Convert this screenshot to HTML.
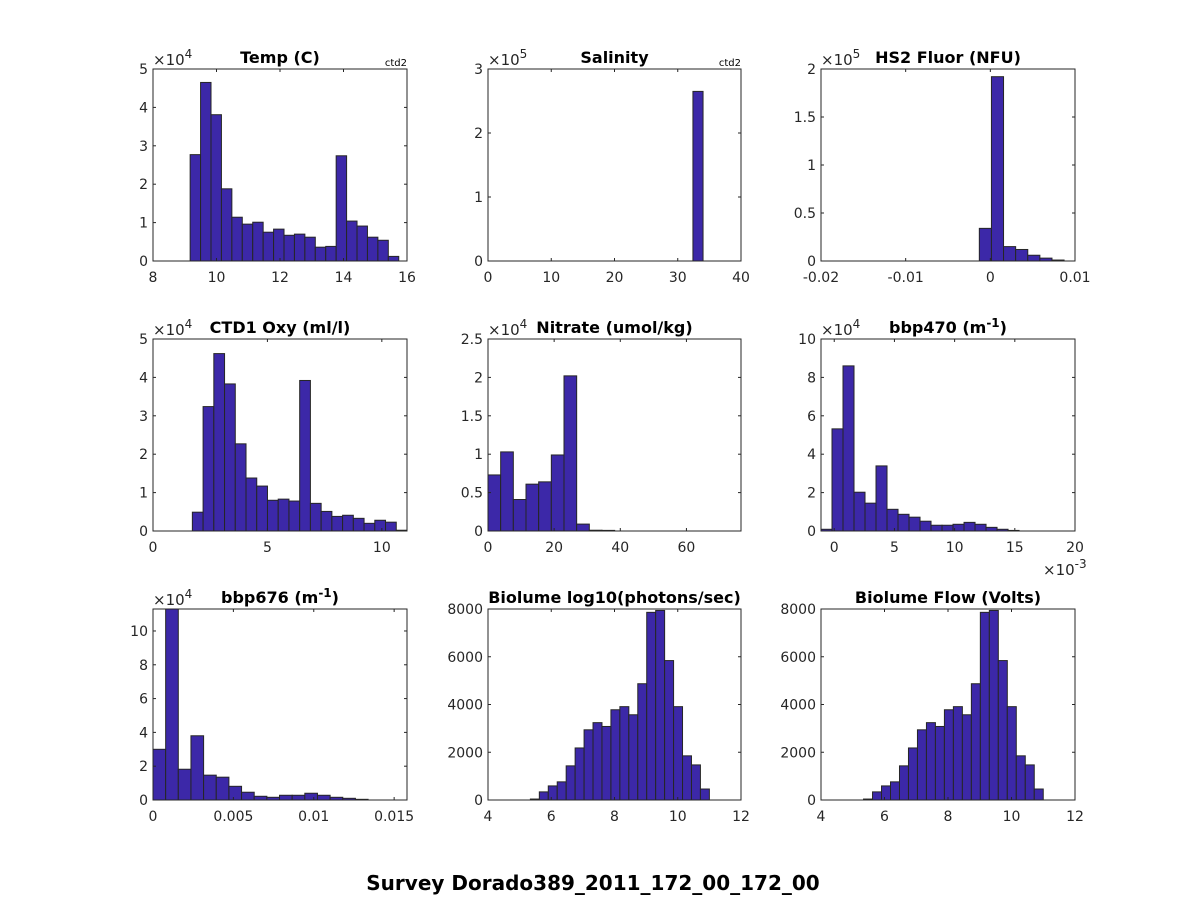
<!DOCTYPE html>
<html><head><meta charset="utf-8"><style>
html,body{margin:0;padding:0;background:#fff;}
svg{display:block;font-family:"DejaVu Sans","Liberation Sans",sans-serif;}
</style></head><body>
<svg id="fig" width="1188" height="900" viewBox="0 0 1188 900">
<rect width="1188" height="900" fill="#fff"/>
<text x="593" y="890" text-anchor="middle" font-size="20" font-weight="bold" fill="#000">Survey Dorado389_2011_172_00_172_00</text>
</svg>
<script>
// ---- data arrays (bin start, bin width in x units, counts in y-exponent units) ----
const tempCounts = [2.77,4.65,3.81,1.88,1.14,0.96,1.01,0.75,0.83,0.67,0.70,0.62,0.36,0.38,2.74,1.04,0.91,0.62,0.54,0.12];
const tempBins = [9.17, 0.3285];
const salCounts = [2.65];
const salBins = [32.4, 1.6];
const fluorCounts = [0.34,1.92,0.15,0.12,0.06,0.03,0.01];
const fluorBins = [-0.0013, 0.00143];
const oxyCounts = [0.49,3.24,4.62,3.83,2.27,1.38,1.17,0.80,0.83,0.78,3.92,0.72,0.51,0.38,0.41,0.33,0.20,0.28,0.23,0.02];
const oxyBins = [1.72, 0.469];
const nitCounts = [0.73,1.03,0.41,0.61,0.64,0.99,2.02,0.09,0.01,0.008];
const nitBins = [0, 3.83];
const b470Counts = [0.09,5.32,8.6,2.02,1.45,3.39,1.13,0.87,0.72,0.51,0.30,0.30,0.35,0.45,0.35,0.19,0.09,0.03];
const b470Bins = [-1.1, 0.914];
const b676Counts = [3.0,11.6,1.82,3.8,1.47,1.35,0.81,0.46,0.22,0.16,0.28,0.28,0.40,0.28,0.16,0.10,0.04];
const b676Bins = [0, 0.000787];
const bioCounts = [40,340,590,760,1430,2180,2940,3240,3080,3780,3910,3570,4870,7860,7940,5840,3910,1850,1470,460];
const bioBins = [5.34, 0.283];
const flowCounts = [40,340,590,760,1430,2180,2940,3240,3080,3780,3910,3570,4870,7860,7940,5840,3910,1850,1470,460];
const flowBins = [5.34, 0.283];

const panels = [
 {name:'temp', title:'Temp (C)', box:[153,69,407,261], xlim:[8,16], ylim:[0,5], xt:[8,10,12,14,16], xl:['8','10','12','14','16'], yt:[0,1,2,3,4,5], yl:['0','1','2','3','4','5'], exp:'4', counts:tempCounts, bins:tempBins, ctd:true},
 {name:'salinity', title:'Salinity', box:[488,69,741,261], xlim:[0,40], ylim:[0,3], xt:[0,10,20,30,40], xl:['0','10','20','30','40'], yt:[0,1,2,3], yl:['0','1','2','3'], exp:'5', counts:salCounts, bins:salBins, ctd:true},
 {name:'hs2-fluor', title:'HS2 Fluor (NFU)', box:[821,69,1075,261], xlim:[-0.02,0.01], ylim:[0,2], xt:[-0.02,-0.01,0,0.01], xl:['-0.02','-0.01','0','0.01'], yt:[0,0.5,1,1.5,2], yl:['0','0.5','1','1.5','2'], exp:'5', counts:fluorCounts, bins:fluorBins},
 {name:'ctd1-oxy', title:'CTD1 Oxy (ml/l)', box:[153,339,407,531], xlim:[0,11.1], ylim:[0,5], xt:[0,5,10], xl:['0','5','10'], yt:[0,1,2,3,4,5], yl:['0','1','2','3','4','5'], exp:'4', counts:oxyCounts, bins:oxyBins},
 {name:'nitrate', title:'Nitrate (umol/kg)', box:[488,339,741,531], xlim:[0,76.5], ylim:[0,2.5], xt:[0,20,40,60], xl:['0','20','40','60'], yt:[0,0.5,1,1.5,2,2.5], yl:['0','0.5','1','1.5','2','2.5'], exp:'4', counts:nitCounts, bins:nitBins},
 {name:'bbp470', title:'bbp470 (m', sup:'-1', box:[821,339,1075,531], xlim:[-1.1,20], ylim:[0,10], xt:[0,5,10,15,20], xl:['0','5','10','15','20'], yt:[0,2,4,6,8,10], yl:['0','2','4','6','8','10'], exp:'4', xexp:'-3', counts:b470Counts, bins:b470Bins},
 {name:'bbp676', title:'bbp676 (m', sup:'-1', box:[153,609,407,800], xlim:[0,0.0158], ylim:[0,11.3], xt:[0,0.005,0.01,0.015], xl:['0','0.005','0.01','0.015'], yt:[0,2,4,6,8,10], yl:['0','2','4','6','8','10'], exp:'4', counts:b676Counts, bins:b676Bins},
 {name:'biolume', title:'Biolume log10(photons/sec)', box:[488,609,741,800], xlim:[4,12], ylim:[0,8000], xt:[4,6,8,10,12], xl:['4','6','8','10','12'], yt:[0,2000,4000,6000,8000], yl:['0','2000','4000','6000','8000'], counts:bioCounts, bins:bioBins},
 {name:'biolume-flow', title:'Biolume Flow (Volts)', box:[821,609,1075,800], xlim:[4,12], ylim:[0,8000], xt:[4,6,8,10,12], xl:['4','6','8','10','12'], yt:[0,2000,4000,6000,8000], yl:['0','2000','4000','6000','8000'], counts:flowCounts, bins:flowBins}
];

const NS='http://www.w3.org/2000/svg';
const svg=document.getElementById('fig');
function mk(tag, attrs, parent, text){
  const e=document.createElementNS(NS,tag);
  for(const k in attrs) e.setAttribute(k,attrs[k]);
  if(text!==undefined) e.textContent=text;
  parent.appendChild(e); return e;
}
panels.forEach(p=>{
  const [x0,y0,x1,y1]=p.box;
  const sx=v=>x0+(v-p.xlim[0])/(p.xlim[1]-p.xlim[0])*(x1-x0);
  const sy=v=>y1-(v-p.ylim[0])/(p.ylim[1]-p.ylim[0])*(y1-y0);
  const g=mk('g',{},svg);
  
  
  const clipId='clip-'+p.name;
  const cp=mk('clipPath',{id:clipId},g);
  mk('rect',{x:x0,y:y0,width:x1-x0,height:y1-y0},cp);
  const bars=mk('g',{'clip-path':'url(#'+clipId+')'},g);
  p.counts.forEach((c,i)=>{
    const l=sx(p.bins[0]+i*p.bins[1]), r=sx(p.bins[0]+(i+1)*p.bins[1]);
    const t=sy(Math.min(c,p.ylim[1]*1.05));
    const b=mk('rect',{x:l,y:t,width:r-l,height:y1-t,fill:'#3c28a8',stroke:'#262626','stroke-width':1},bars);
    
    
  });
  const ax=mk('rect',{x:x0,y:y0,width:x1-x0,height:y1-y0,fill:'none',stroke:'#262626','stroke-width':1},g);
  
  
  p.xt.forEach((v,i)=>{
    const x=sx(v);
    mk('line',{x1:x,y1:y1,x2:x,y2:y1-3,stroke:'#262626'},g);
    mk('line',{x1:x,y1:y0,x2:x,y2:y0+3,stroke:'#262626'},g);
    const t=mk('text',{x:x,y:y1+21,'text-anchor':'middle','font-size':14,fill:'#262626'},g,p.xl[i]);
    
    
  });
  p.yt.forEach((v,i)=>{
    const y=sy(v);
    mk('line',{x1:x0,y1:y,x2:x0+3,y2:y,stroke:'#262626'},g);
    mk('line',{x1:x1,y1:y,x2:x1-3,y2:y,stroke:'#262626'},g);
    const t=mk('text',{x:x0-5,y:y+5,'text-anchor':'end','font-size':14,fill:'#262626'},g,p.yl[i]);
    
    
  });
  if(p.exp){
    const t=mk('text',{x:x0,y:y0-4,'font-size':15,fill:'#262626'},g,'×10');
    mk('tspan',{dy:-7,'font-size':12},t,p.exp);
    
    
  }
  if(p.xexp){
    const t=mk('text',{x:x1-32,y:y1+44,'font-size':15,fill:'#262626'},g,'×10');
    mk('tspan',{dy:-7,'font-size':12},t,p.xexp);
    
    
  }
  const tt=mk('text',{x:(x0+x1)/2,y:y0-6,'text-anchor':'middle','font-size':16,'font-weight':'bold',fill:'#000'},g,p.title);
  if(p.sup){ mk('tspan',{dy:-6,'font-size':12},tt,p.sup); mk('tspan',{dy:6},tt,')'); }
  
  
  if(p.ctd){
    const c=mk('text',{x:x1,y:y0-3,'text-anchor':'end','font-size':10,fill:'#000'},g,'ctd2');
    
    
  }
});
</script>
</body></html>
